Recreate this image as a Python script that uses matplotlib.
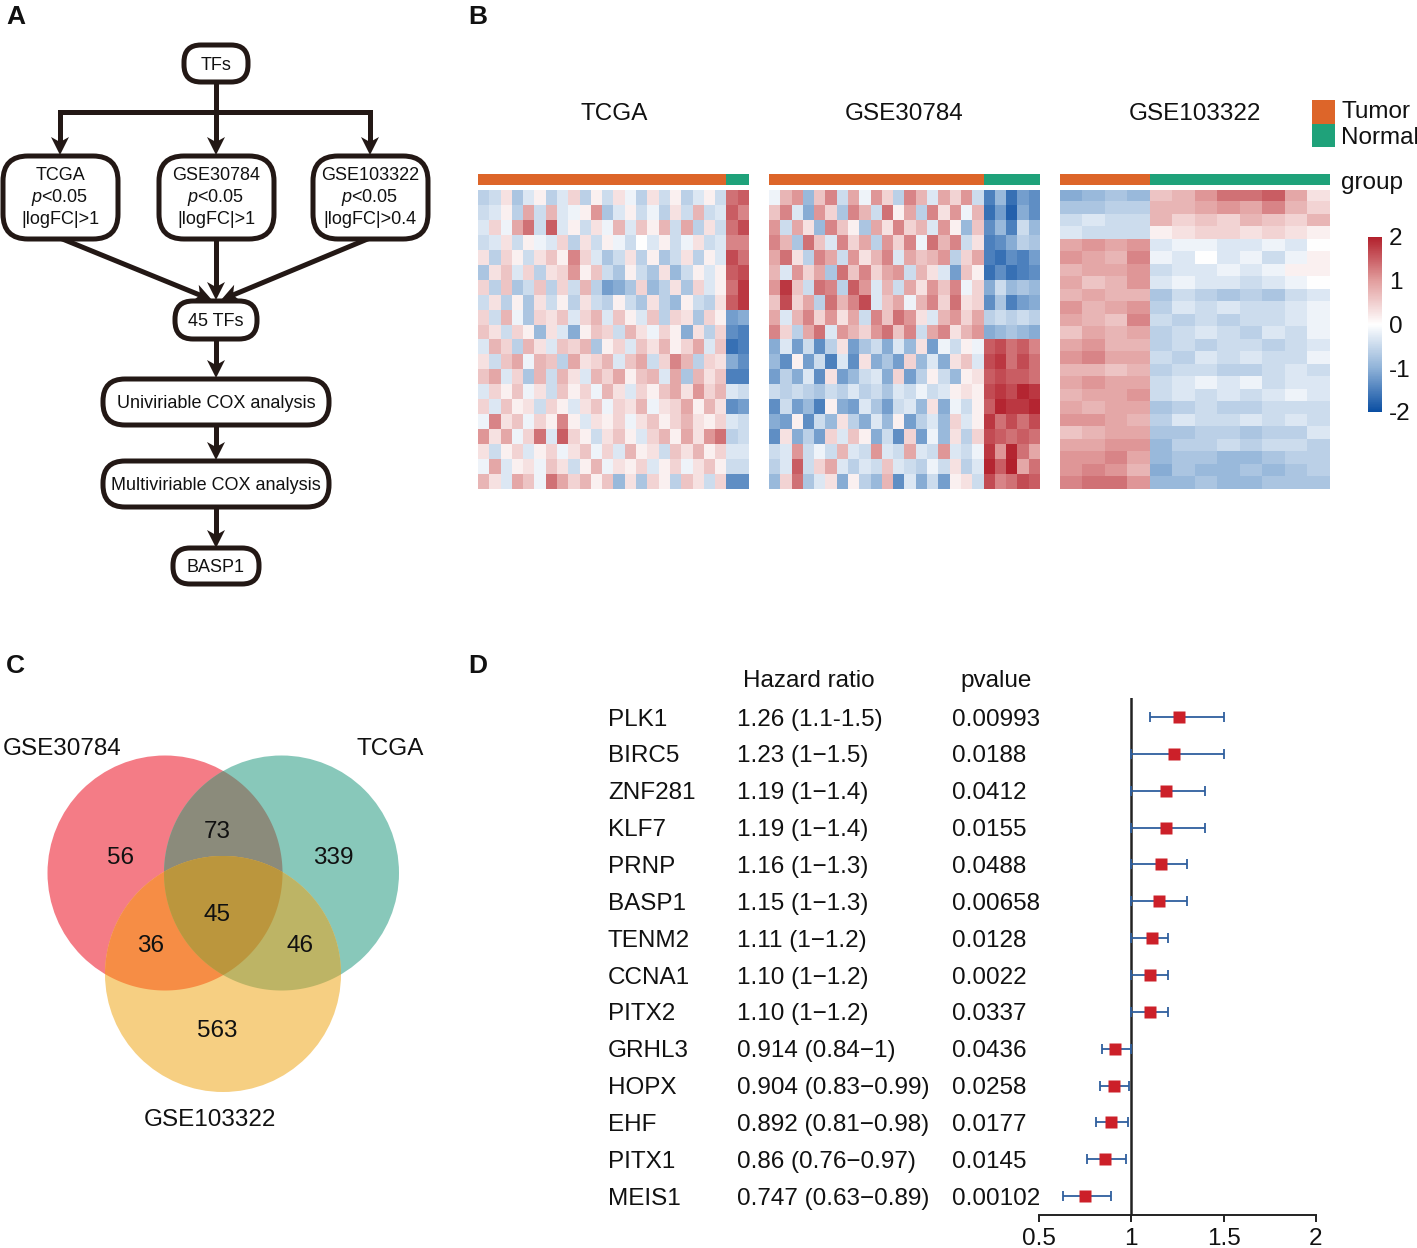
# Four panel figure: flow chart, heatmaps, venn diagram and forest plot
import matplotlib
matplotlib.use('Agg')
import matplotlib.pyplot as plt
import numpy as np
from matplotlib.cm import ScalarMappable
from matplotlib.colors import LinearSegmentedColormap, Normalize
from matplotlib.patches import Circle, FancyBboxPatch, Polygon
from matplotlib.transforms import blended_transform_factory

plt.rcParams['font.family'] = ['Liberation Sans', 'DejaVu Sans']
plt.rcParams['mathtext.fontset'] = 'custom'
plt.rcParams['mathtext.rm'] = 'Liberation Sans'
plt.rcParams['mathtext.it'] = 'Liberation Sans:italic'

W, H = 1417, 1248
DARK = '#231815'
ORANGE = '#DD6529'
GREEN = '#1FA27A'

# --- data ---
# heatmap cells are coarse block readings by eye, in steps of 0.15 z-score
CELL_STEP = 0.15
tcga_tumor_cols, tcga_normal_cols = 22, 2
tcga_cells = [
    [-4, -3, 2, -5, -2, 1, -4, -2, 3, -4, 1, -3, 2, -1, -4, 2, -3, 1, -4, -2, 1, -3, 9, 10],
    [-3, -2, 1, -4, 6, -3, 5, -2, -1, 1, 7, -5, -2, 1, -3, -1, -4, 2, -3, 5, -3, -2, 10, 8],
    [-2, 3, -1, 6, 9, -3, 10, -2, 1, -3, 2, -1, 5, -2, 4, 1, 5, -3, 6, -4, 2, -3, 9, 11],
    [-3, -2, 2, -3, 1, -1, -2, 3, -4, 2, -3, 1, -1, -3, 0, -2, 1, -3, -1, 2, -3, -2, 8, 8],
    [2, -4, 3, 1, -3, 2, 4, 1, 8, 3, -2, -5, -3, 2, -4, 1, -5, -3, 2, -4, 1, -2, 11, 9],
    [-5, 2, 4, -2, 3, -4, 2, 3, 7, 1, 4, -3, -5, 1, -3, -5, 2, -6, -3, 1, -2, 1, 10, 11],
    [3, -4, 4, -5, -3, 4, -4, 3, -3, 5, -4, -8, -7, -5, 3, -6, -4, 2, -5, 3, -2, 1, 9, 12],
    [-3, 2, -4, 1, -5, 2, -3, 1, -4, 2, -3, -4, 1, -3, -5, 2, -4, -6, 1, -3, -4, 2, 10, 12],
    [3, -3, 5, -1, -5, 3, 2, 4, -2, 3, 5, -2, 4, 1, -2, 4, -4, 3, 2, -5, 3, 1, -8, -7],
    [4, 2, -3, 3, 1, -6, 2, -2, -7, 1, 4, 3, -3, 5, 2, -1, 3, 1, -7, 2, -4, 3, -9, -10],
    [-2, 5, 3, -4, 5, 2, -2, 4, 3, 5, -5, 1, 3, -2, 4, 2, 5, 1, 3, 6, -2, 4, -11, -10],
    [2, -3, 4, 6, -1, 5, 4, -4, 6, 2, 3, 5, -2, 4, 6, -3, 3, 8, 5, -4, 3, 2, -7, -9],
    [4, 6, -2, 3, -5, 5, -3, 5, 2, -2, 5, 3, 6, 1, 4, 5, -2, 6, -5, 5, 2, 4, -10, -10],
    [-2, 3, 1, 4, -1, 2, -3, 4, 1, 3, -1, 5, 2, -2, 3, 1, 4, 6, 2, 7, 3, 5, -2, -3],
    [3, -2, 4, 1, 2, -3, 3, 1, -2, 2, 4, -1, 3, 2, 5, -1, 2, 3, 6, 1, 5, 2, -9, -8],
    [-1, 8, 2, 4, -1, 3, 1, 8, 1, -2, 2, 1, 3, -1, 2, 4, 1, 3, 5, 2, 1, 3, -2, -3],
    [7, 2, 6, -1, 3, 9, -2, 10, 3, 1, -3, 2, 4, 1, -2, 3, 5, 1, 6, 2, 7, 9, -4, -3],
    [2, -3, 1, 3, -2, 1, 3, -1, 2, 4, -1, 3, -2, 5, 1, 2, -3, 4, 2, 5, 1, 3, -2, -2],
    [-1, 6, -2, 1, 2, -1, 4, 2, -3, 1, 5, -1, 2, 1, 3, -2, 1, 3, -1, 2, 4, 1, -3, -3],
    [5, 2, -2, 6, 4, -1, 9, 6, 3, 5, 1, 4, -6, 2, -5, 3, 1, -4, 4, 2, -3, 3, -9, -9],
]

gse30784_tumor_cols, gse30784_normal_cols = 19, 5
gse30784_cells = [
    [-1, 5, 7, -6, 4, 8, -3, 6, -1, 7, 3, -4, 8, 5, -2, 6, 3, 7, -3, -10, -6, -11, -8, -9],
    [4, 8, -2, -7, 7, 3, -5, 8, 5, -3, 9, 1, 6, -4, 8, 2, 7, -1, 5, -11, -8, -12, -7, -9],
    [7, -3, 6, 2, -6, 8, 4, 1, -5, 6, 2, 8, 3, 5, -2, 7, 1, -6, 4, -9, -6, -10, -3, -6],
    [8, 5, -5, 9, 4, -2, 8, 3, 6, -4, 7, 3, 8, -1, 9, 5, 8, -3, 2, -10, -9, -7, -4, -5],
    [6, 9, 2, -4, 8, 6, -3, 7, 2, 5, 8, -2, 6, 4, 5, 7, -4, 3, 6, -10, -11, -9, -10, -8],
    [5, -2, 7, 3, 6, -5, 9, 4, 8, 3, 6, 7, -3, 5, 2, -2, -8, 4, 1, -11, -9, -11, -10, -9],
    [7, 12, 4, -3, 9, 8, -4, 10, 7, -2, 5, -3, 6, 2, 7, 4, 8, -1, 3, -7, -3, -6, -5, -6],
    [4, 11, 3, 6, -4, 9, 5, 8, 11, -2, 4, 6, -1, 5, 8, 3, 9, 2, 3, -9, -5, -10, -8, -7],
    [6, -2, 5, 8, 3, 7, 2, 6, -3, 8, 4, 9, 7, 2, -2, 5, 7, 3, 6, -4, -3, -4, -3, -4],
    [8, 3, -4, 6, 9, -2, 7, 5, 3, 7, 9, 4, 8, -3, 6, 8, 2, 5, 7, -7, -6, -5, -6, -7],
    [-7, -2, -8, -3, -9, -4, 2, -8, -5, -3, -7, -2, -6, 2, -8, -1, -3, 1, -1, 10, 11, 9, 10, 8],
    [-6, -9, 1, -8, -3, -10, -2, -9, 2, -7, -5, -8, 3, -6, -2, -7, 2, 4, -2, 11, 12, 9, 11, 9],
    [-8, -4, -7, -2, -9, 2, -8, -6, -3, -2, -7, 3, -8, -4, 1, -3, -6, 1, 2, 10, 11, 10, 10, 9],
    [-3, -4, -3, -4, -5, -3, -4, -2, -4, -3, -5, -2, -3, -1, -3, -2, 1, 2, 1, 11, 12, 11, 13, 12],
    [-9, -3, -8, -6, -10, 1, -7, -8, -2, -5, -8, -3, -2, -6, 2, -7, -1, -3, 1, 10, 13, 12, 12, 13],
    [-7, -8, 1, -9, -3, -6, 2, -4, -7, -2, -6, 1, -8, -4, -2, -6, 3, -2, 1, 12, 9, 11, 9, 11],
    [-9, 2, -7, -4, -8, 3, -2, 4, 1, -7, -3, -9, 3, -8, -1, -6, 2, -4, 3, 11, 10, 9, 10, 9],
    [-3, -2, 7, -3, -1, -3, 5, -2, -3, 7, -2, -3, 6, -2, -3, 7, -2, -3, -1, 12, 7, 13, 9, 6],
    [-4, -2, 10, -3, 3, 6, -2, -4, -2, -3, 4, -2, -3, -4, -1, -3, 2, -4, -2, 13, 10, 14, 6, 9],
    [-6, 3, 9, -5, -2, 2, -7, 1, -4, -6, 5, -9, -2, -7, -3, -8, 1, 2, -3, 11, 8, 9, 11, 10],
]

gse103322_tumor_cols, gse103322_normal_cols = 4, 8
gse103322_cells = [
    [-7, -6, -5, -6, 4, 5, 7, 9, 9, 10, 6, 2],
    [-5, -5, -4, -4, 5, 5, 6, 7, 6, 8, 5, 3],
    [-3, -2, -3, -3, 5, 3, 4, 3, 5, 4, 3, 5],
    [-2, -3, -3, -3, 1, 2, 3, 3, 2, 3, 2, 1],
    [6, 7, 6, 7, -2, -1, -1, -2, -2, -1, -2, 0],
    [7, 6, 5, 8, -1, -2, 0, -2, -1, -3, -1, 1],
    [5, 6, 6, 7, -3, -2, -2, -1, -2, -1, 1, 1],
    [6, 4, 5, 7, -2, -1, -2, -2, -3, -2, -1, 0],
    [5, 6, 5, 5, -5, -3, -4, -5, -4, -5, -3, -2],
    [7, 5, 6, 7, -4, -2, -3, -2, -3, -3, -2, -1],
    [6, 5, 4, 8, -3, -4, -3, -4, -3, -3, -2, -1],
    [4, 6, 5, 6, -4, -3, -2, -3, -4, -2, -3, -1],
    [6, 7, 5, 5, -4, -3, -4, -3, -3, -4, -3, -2],
    [7, 8, 6, 6, -3, -4, -2, -3, -2, -3, -3, -1],
    [5, 5, 4, 5, -4, -3, -3, -4, -4, -3, -2, -3],
    [6, 7, 6, 6, -3, -2, -1, -2, -1, -3, -2, -2],
    [5, 6, 6, 7, -3, -2, -3, -2, -3, -2, -1, -2],
    [6, 5, 6, 6, -5, -4, -3, -4, -4, -3, -3, -3],
    [7, 7, 6, 5, -4, -2, -3, -3, -2, -3, -2, -3],
    [4, 5, 6, 6, -5, -5, -4, -4, -5, -4, -4, -2],
    [6, 6, 7, 7, -6, -4, -4, -3, -4, -3, -3, -4],
    [7, 7, 8, 6, -6, -5, -5, -6, -6, -5, -4, -4],
    [7, 8, 7, 5, -7, -5, -6, -6, -5, -6, -5, -4],
    [8, 9, 9, 7, -6, -6, -5, -6, -6, -5, -5, -5],
]

heat_titles = ['TCGA', 'GSE30784', 'GSE103322']
group_names = ['Tumor', 'Normal']
cbar_ticks = [2, 1, 0, -1, -2]
cbar_labels = ['2', '1', '0', '-1', '-2']

venn_names = ['GSE30784', 'TCGA', 'GSE103322']
venn_counts = [56, 339, 563, 73, 36, 46, 45]

genes = ['PLK1', 'BIRC5', 'ZNF281', 'KLF7', 'PRNP', 'BASP1', 'TENM2', 'CCNA1', 'PITX2',
         'GRHL3', 'HOPX', 'EHF', 'PITX1', 'MEIS1']
hr = [1.26, 1.23, 1.19, 1.19, 1.16, 1.15, 1.11, 1.10, 1.10, 0.914, 0.904, 0.892, 0.86, 0.747]
hr_low = [1.1, 1, 1, 1, 1, 1, 1, 1, 1, 0.84, 0.83, 0.81, 0.76, 0.63]
hr_high = [1.5, 1.5, 1.4, 1.4, 1.3, 1.3, 1.2, 1.2, 1.2, 1, 0.99, 0.98, 0.97, 0.89]
hr_labels = ['1.26 (1.1-1.5)', '1.23 (1\u22121.5)', '1.19 (1\u22121.4)', '1.19 (1\u22121.4)',
             '1.16 (1\u22121.3)', '1.15 (1\u22121.3)', '1.11 (1\u22121.2)', '1.10 (1\u22121.2)',
             '1.10 (1\u22121.2)', '0.914 (0.84\u22121)', '0.904 (0.83\u22120.99)',
             '0.892 (0.81\u22120.98)', '0.86 (0.76\u22120.97)', '0.747 (0.63\u22120.89)']
pvalues = ['0.00993', '0.0188', '0.0412', '0.0155', '0.0488', '0.00658', '0.0128', '0.0022',
           '0.0337', '0.0436', '0.0258', '0.0177', '0.0145', '0.00102']
forest_ticks = [0.5, 1, 1.5, 2]
forest_tick_labels = ['0.5', '1', '1.5', '2']

# --- canvas in pixel coordinates ---
fig = plt.figure(figsize=(W / 100, H / 100), dpi=100, facecolor='white')
canvas = fig.add_axes([0, 0, 1, 1])
canvas.set_xlim(0, W)
canvas.set_ylim(H, 0)
canvas.axis('off')


def px_axes(left, top, right, bottom):
    return fig.add_axes([left / W, 1 - bottom / H, (right - left) / W, (bottom - top) / H])


def label(x, y, s, size=17.5, ha='center', **kw):
    # va center sits about 2 px high for this font
    canvas.text(x, y + 2, s, fontsize=size, ha=ha, va='center', color='#111111', zorder=4, **kw)


for x, y, s in [(6, 15, 'A'), (468, 15, 'B'), (6, 664, 'C'), (468, 664, 'D')]:
    label(x, y, s, size=19, ha='left', fontweight='bold')


# --- A: flow chart ---
def box(left, top, right, bottom, radius):
    canvas.add_patch(FancyBboxPatch((left, top), right - left, bottom - top,
                                    boxstyle=f'round,pad=0,rounding_size={radius}',
                                    fc='white', ec=DARK, lw=3.6, zorder=3))


def arrow(x0, y0, x1, y1):
    d = np.array([x1 - x0, y1 - y0], dtype=float)
    d /= np.hypot(*d)
    n = np.array([-d[1], d[0]])
    tip = np.array([x1, y1])
    canvas.plot([x0, x1 - d[0] * 8], [y0, y1 - d[1] * 8], color=DARK, lw=3.6,
                solid_capstyle='butt', zorder=2)
    canvas.add_patch(Polygon([tip, tip - d * 18 + n * 9, tip - d * 13, tip - d * 18 - n * 9],
                             closed=True, fc=DARK, ec='none', zorder=2))


canvas.plot([216, 216], [82, 112], color=DARK, lw=3.6, zorder=2)
canvas.plot([60, 370], [112, 112], color=DARK, lw=3.6, zorder=2, solid_capstyle='projecting')
for x in (60, 216, 370):
    arrow(x, 112, x, 155)
arrow(60, 238, 212, 300)
arrow(216, 238, 216, 300)
arrow(370, 238, 221, 300)
arrow(216, 339, 216, 378)
arrow(216, 425, 216, 460)
arrow(216, 507, 216, 548)

box(184, 45, 248, 82, 17)
box(3, 156, 118, 239, 25)
box(159, 156, 274, 239, 25)
box(313, 156, 428, 239, 25)
box(175, 301, 257, 339, 18)
box(103, 379, 329, 425, 22)
box(103, 461, 329, 507, 22)
box(173, 548, 259, 584, 17)

FLOW = 13
label(216, 63, 'TFs', size=FLOW)
for x, name, fc in [(60, 'TCGA', '|logFC|>1'), (216, 'GSE30784', '|logFC|>1'),
                    (370, 'GSE103322', '|logFC|>0.4')]:
    label(x, 174, name, size=FLOW)
    label(x, 196, r'$\mathit{p}$<0.05', size=FLOW)
    label(x, 218, fc, size=FLOW)
label(216, 319, '45 TFs', size=FLOW)
label(216, 401, 'Univiriable COX analysis', size=FLOW)
label(216, 483, 'Multiviriable COX analysis', size=FLOW)
label(216, 565, 'BASP1', size=FLOW)

# --- B: heatmaps ---
cmap = LinearSegmentedColormap.from_list(
    'expr', ['#0A4EA2', '#8FB2D8', '#FFFFFF', '#E29E9E', '#B2202C'])
norm = Normalize(-2, 2)

heat_panels = [
    (478, 749, tcga_cells, tcga_tumor_cols, tcga_normal_cols, 614),
    (769, 1040, gse30784_cells, gse30784_tumor_cols, gse30784_normal_cols, 904),
    (1060, 1330, gse103322_cells, gse103322_tumor_cols, gse103322_normal_cols, 1195),
]
for (left, right, cells, n_tumor, n_normal, mid), title in zip(heat_panels, heat_titles):
    ax = px_axes(left, 190, right, 489)
    ax.imshow(np.array(cells) * CELL_STEP, cmap=cmap, norm=norm, aspect='auto',
              interpolation='nearest')
    ax.axis('off')
    bar = px_axes(left, 174, right, 185)
    bar.barh(0, n_tumor, color=ORANGE, height=1)
    bar.barh(0, n_normal, left=n_tumor, color=GREEN, height=1)
    bar.set_xlim(0, n_tumor + n_normal)
    bar.set_ylim(-0.5, 0.5)
    bar.axis('off')
    label(mid, 112, title)

canvas.add_patch(plt.Rectangle((1312, 100), 23, 23.5, fc=ORANGE, ec='none'))
canvas.add_patch(plt.Rectangle((1312, 123.5), 23, 23.5, fc=GREEN, ec='none'))
label(1341, 110, group_names[0], ha='left')
label(1341, 136, group_names[1], ha='left', clip_on=True)
label(1341, 181, 'group', ha='left')

cax = px_axes(1368, 237, 1382, 412)
cb = fig.colorbar(ScalarMappable(norm=norm, cmap=cmap), cax=cax)
cb.outline.set_visible(False)
cb.set_ticks(cbar_ticks)
cb.set_ticklabels(cbar_labels)
cax.tick_params(length=0, labelsize=17.5, pad=5, labelcolor='#111111')


# --- C: venn diagram ---
def overlap(*circles):
    # polygon outline of the area shared by the given circles
    theta = np.linspace(0, 2 * np.pi, 1440, endpoint=False)
    pts = []
    for i, (cx, cy, r) in enumerate(circles):
        p = np.column_stack([cx + r * np.cos(theta), cy + r * np.sin(theta)])
        for j, (ox, oy, or_) in enumerate(circles):
            if i != j:
                p = p[np.hypot(p[:, 0] - ox, p[:, 1] - oy) <= or_]
        pts.append(p)
    pts = np.vstack(pts)
    c = pts.mean(axis=0)
    return pts[np.argsort(np.arctan2(pts[:, 1] - c[1], pts[:, 0] - c[0]))]


red_c, green_c, yellow_c = (165, 873, 117.5), (281.5, 873, 117.5), (223, 974, 118)
for (cx, cy, r), col in [(red_c, '#F47C86'), (green_c, '#88C8BA'), (yellow_c, '#F6CF82')]:
    canvas.add_patch(Circle((cx, cy), r, fc=col, ec='none', zorder=1))
for group, col in [((red_c, green_c), '#8B8B7B'), ((red_c, yellow_c), '#F68D45'),
                   ((green_c, yellow_c), '#BDB465'), ((red_c, green_c, yellow_c), '#BB963D')]:
    canvas.add_patch(Polygon(overlap(*group), closed=True, fc=col, ec='none', zorder=2))

for (x, y), n in zip([(120, 856), (333, 856), (217, 1029), (217, 830), (151, 944), (300, 944),
                      (217, 913)], venn_counts):
    label(x, y, str(n))
for (x, y), name in zip([(62, 747), (390, 747), (210, 1118)], venn_names):
    label(x, y, name)

# --- D: forest plot ---
forest = px_axes(1039, 698, 1316, 1215)
rows = np.arange(len(genes))
forest.errorbar(hr, rows, xerr=[np.array(hr) - np.array(hr_low), np.array(hr_high) - np.array(hr)],
                fmt='none', ecolor='#2F5F9E', elinewidth=1.3, capsize=3.6, capthick=1.3, zorder=2)
forest.plot(hr, rows, 's', color='#CC2029', ms=8.6, mec='none', zorder=3)
forest.axvline(1, color='#222222', lw=1.8, zorder=1)
forest.set_xlim(0.5, 2)
forest.set_ylim(13.51, -0.516)
forest.patch.set_alpha(0)
for side in ('top', 'left', 'right'):
    forest.spines[side].set_visible(False)
forest.spines['bottom'].set_linewidth(1.4)
forest.spines['bottom'].set_color('#222222')
forest.set_yticks([])
forest.set_xticks(forest_ticks)
forest.set_xticklabels(forest_tick_labels)
forest.tick_params(axis='x', length=5, width=1.4, labelsize=17.5, pad=4.5, color='#222222',
                   labelcolor='#111111')

table = blended_transform_factory(canvas.transData, forest.transData)
for i in rows:
    for x, s in [(608, genes[i]), (737, hr_labels[i]), (952, pvalues[i])]:
        canvas.text(x, i + 0.07, s, transform=table, fontsize=17.5, ha='left', va='center',
                    color='#111111')
label(809, 679, 'Hazard ratio')
label(996, 679, 'pvalue')

fig.savefig('out.png', dpi=100)
